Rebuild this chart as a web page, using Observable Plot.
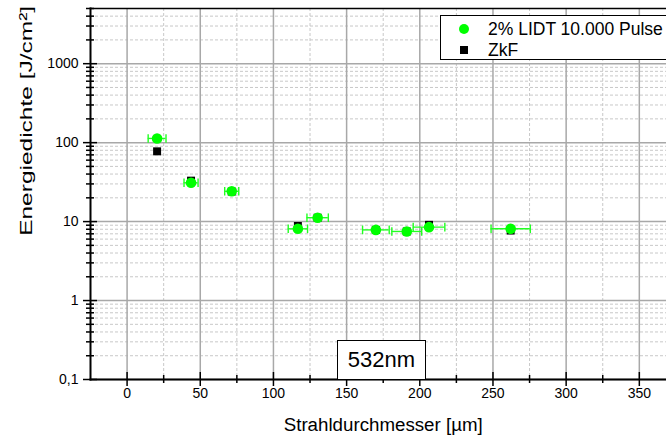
<!DOCTYPE html>
<html>
<head>
<meta charset="utf-8">
<script src="https://cdn.jsdelivr.net/npm/d3@7"></script>
<script src="https://cdn.jsdelivr.net/npm/@observablehq/plot@0.6"></script>
<style>
  html, body { margin: 0; padding: 0; background: #fff; overflow: hidden; width: 666px; height: 441px; }
  #wrap { position: relative; width: 666px; height: 441px; overflow: hidden; font-family: "Liberation Sans", Arial, sans-serif; }
  #chart { position: absolute; left: 0; top: 0; width: 730px; height: 441px; }
  #chart svg { max-width: none !important; width: 730px; height: 441px; display: block; }
  #legend { position: absolute; left: 440px; top: 15px; width: 300px; height: 43px; border: 1px solid #000; background: #fff; }
  .lrow { position: absolute; left: 0; height: 20px; font-size: 17.5px; line-height: 20px; color: #000; white-space: nowrap; }
  .lrow span.t { position: absolute; left: 47px; top: 0; }
  .sw-c { position: absolute; left: 18px; top: 5px; width: 10px; height: 10px; border-radius: 50%; background: #00ff00; }
  .sw-s { position: absolute; left: 19px; top: 6px; width: 8px; height: 8px; background: #000; }
  #wl { position: absolute; left: 337px; top: 340px; width: 87px; height: 38px; border: 1px solid #000; background: #fff; font-size: 22px; line-height: 38px; text-align: center; color: #000; }
</style>
</head>
<body>
<div id="wrap">
  <div id="chart"></div>
  <div id="legend">
    <div class="lrow" style="top:3px"><div class="sw-c"></div><span class="t">2% LIDT 10.000 Pulse</span></div>
    <div class="lrow" style="top:24px"><div class="sw-s"></div><span class="t">ZkF</span></div>
  </div>
  <div id="wl">532nm</div>
</div>
<script>
// ---- data ----
const diameters   = [20.5, 43.7, 71.5, 116.7, 130.2, 170, 191.1, 206.3, 262.1];
const lidtValues  = [113, 31, 24.2, 8.1, 11.2, 7.85, 7.5, 8.5, 8.1];
const diamErrors  = [6.1, 4.8, 4.8, 6.6, 7.3, 9.1, 10.2, 10.8, 13.4];
const zkfValues   = [77.6, 33, 24, 8.8, 11.2, 7.85, 7.5, 9.1, 7.7];

const xTicks = [0, 50, 100, 150, 200, 250, 300, 350];
const xTickLabels = ["0", "50", "100", "150", "200", "250", "300", "350"];
const xMinorTicks = [-25, 25, 75, 125, 175, 225, 275, 325, 375];
const yTicks = [0.1, 1, 10, 100, 1000];
const yTickLabels = ["0,1", "1", "10", "100", "1000"];
const xTitle = "Strahldurchmesser [µm]";
const yTitle = "Energiedichte [J/cm²]";

// minor log positions 2..9 per decade
const yMinor = [];
for (const d of [0.1, 1, 10, 100, 1000]) for (let k = 2; k <= 9; k++) { const v = d * k; if (v <= 5000) yMinor.push(v); }

const green = diameters.map((x, i) => ({x, y: lidtValues[i], e: diamErrors[i]}));
const black = diameters.map((x, i) => ({x, y: zkfValues[i]}));

const vbar = { draw(ctx, size) { const r = Math.sqrt(size / Math.PI); ctx.moveTo(0, -r); ctx.lineTo(0, r); } };

const W = 730, H = 441;
const plot = Plot.plot({
  width: W, height: H,
  marginLeft: 90, marginRight: 18, marginTop: 8, marginBottom: 62,
  style: { fontFamily: "'Liberation Sans', Arial, sans-serif", background: "#fff", color: "#000", maxWidth: "none" },
  x: { domain: [-25, 400], axis: null },
  y: { type: "log", domain: [0.1, 5000], axis: null },
  marks: [
    // grid
    Plot.ruleX(xMinorTicks, { stroke: "#c8c8c8", strokeWidth: 1, strokeDasharray: "3,2" }),
    Plot.ruleY(yMinor, { stroke: "#c8c8c8", strokeWidth: 1, strokeDasharray: "3,2" }),
    Plot.ruleX(xTicks, { stroke: "#a8a8a8", strokeWidth: 1.5 }),
    Plot.ruleY(yTicks, { stroke: "#a8a8a8", strokeWidth: 1.5 }),
    // frame lines
    Plot.frame({ anchor: "top", stroke: "#000", strokeWidth: 1.5 }),
    Plot.frame({ anchor: "bottom", stroke: "#000", strokeWidth: 2 }),
    Plot.frame({ anchor: "left", stroke: "#000", strokeWidth: 2 }),
    Plot.frame({ anchor: "right", stroke: "#000", strokeWidth: 2 }),
    // ticks crossing the axes
    Plot.tickX(xTicks, { x: d => d, stroke: "#000", strokeWidth: 1.5, insetTop: 364, insetBottom: -7 }),
    Plot.tickX(xMinorTicks.filter(d => d > -25), { x: d => d, stroke: "#000", strokeWidth: 1.5, insetTop: 367, insetBottom: -4 }),
    Plot.tickY(yTicks, { y: d => d, stroke: "#000", strokeWidth: 1.5, insetLeft: -7, insetRight: 615 }),
    Plot.tickY(yMinor, { y: d => d, stroke: "#000", strokeWidth: 1.5, insetLeft: -4, insetRight: 618 }),
    // tick labels
    Plot.text(xTicks, { x: d => d, text: (d, i) => xTickLabels[i], frameAnchor: "bottom", dy: 18, fontSize: 14, fill: "#000" }),
    Plot.text(yTicks, { y: d => d, text: (d, i) => yTickLabels[i], frameAnchor: "left", textAnchor: "end", dx: -12, fontSize: 14, fill: "#000" }),
    // axis titles
    Plot.text([xTitle], { x: 175, frameAnchor: "bottom", dy: 51, fontSize: 18, fill: "#000" }),
    Plot.text([yTitle], { y: 6.6, frameAnchor: "left", dx: -64, rotate: -90, fontSize: 17, fill: "#000" }),
    // data
    Plot.dot(black, { x: "x", y: "y", symbol: "square", r: 4.5, fill: "#000", stroke: "none" }),
    Plot.ruleY(green, { y: "y", x1: d => d.x - d.e, x2: d => d.x + d.e, stroke: "#22ff22", strokeWidth: 1.4 }),
    Plot.dot(green, { x: d => d.x - d.e, y: "y", symbol: vbar, r: 4.3, stroke: "#22ff22", strokeWidth: 1.4, fill: "none" }),
    Plot.dot(green, { x: d => d.x + d.e, y: "y", symbol: vbar, r: 4.3, stroke: "#22ff22", strokeWidth: 1.4, fill: "none" }),
    Plot.dot(green, { x: "x", y: "y", r: 5.3, fill: "#00ff00", stroke: "none" })
  ]
});
plot.style.maxWidth = "none";
document.getElementById("chart").appendChild(plot);

// stretch the axis titles to the reference's lengths
d3.select(plot).selectAll("text").each(function () {
  const t = this.textContent;
  if (t === yTitle) { this.setAttribute("textLength", 230); this.setAttribute("lengthAdjust", "spacingAndGlyphs"); }
  if (t === xTitle) { this.setAttribute("textLength", 199); this.setAttribute("lengthAdjust", "spacingAndGlyphs"); }
});
</script>
</body>
</html>
